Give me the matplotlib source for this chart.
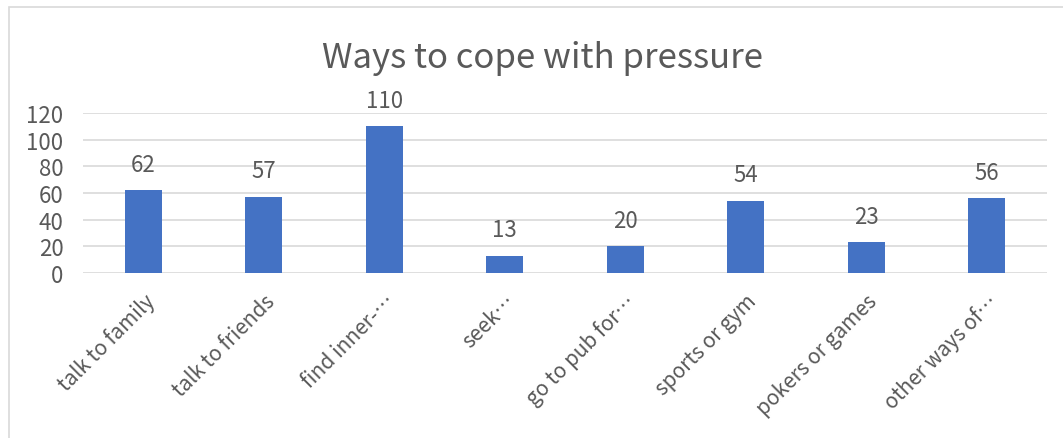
import matplotlib.pyplot as plt
from matplotlib.patches import Rectangle

categories = ['talk to family', 'talk to friends', 'find inner-…', 'seek…',
              'go to pub for…', 'sports or gym', 'pokers or games', 'other ways of…']
values = [62, 57, 110, 13, 20, 54, 23, 56]
yticks = [0, 20, 40, 60, 80, 100, 120]

plt.rcParams['font.family'] = ['Noto Sans CJK SC', 'DejaVu Sans']
plt.rcParams['font.weight'] = 'light'
txt = '#595959'

fig = plt.figure(figsize=(10.63, 4.39), dpi=100)
fig.patches.append(Rectangle((9 / 1063, -0.1), 1.2, 1 - 8 / 439 + 0.1, transform=fig.transFigure,
                             fill=False, edgecolor='#D9D9D9', linewidth=1.2))
ax = fig.add_axes([83 / 1063, 1 - 274 / 439, 964 / 1063, 160 / 439])

x = range(len(categories))
bars = ax.bar(x, values, width=0.31, color='#4472C4', zorder=3)
for b, v in zip(bars, values):
    ax.text(b.get_x() + b.get_width() / 2, v + 11, str(v), ha='center', va='bottom',
            fontsize=16, color=txt)

ax.set_xlim(-0.5, len(categories) - 0.5)
ax.set_ylim(0, 120)
ax.set_yticks(yticks)
ax.grid(axis='y', color='#D9D9D9', linewidth=1.2, zorder=0)
for s in ax.spines.values():
    s.set_visible(False)
ax.tick_params(axis='both', length=0, labelsize=16, labelcolor=txt)
ax.tick_params(axis='y', pad=14)
ax.set_xticks(list(x))
ax.set_xticklabels(categories, rotation=45, ha='right', va='top', rotation_mode='anchor',
                   fontsize=15)
ax.tick_params(axis='x', pad=12)

fig.suptitle('Ways to cope with pressure', x=542 / 1063, y=1 - 59 / 439, va='center',
             fontsize=25, color=txt)

plt.savefig('out.png', dpi=100)
